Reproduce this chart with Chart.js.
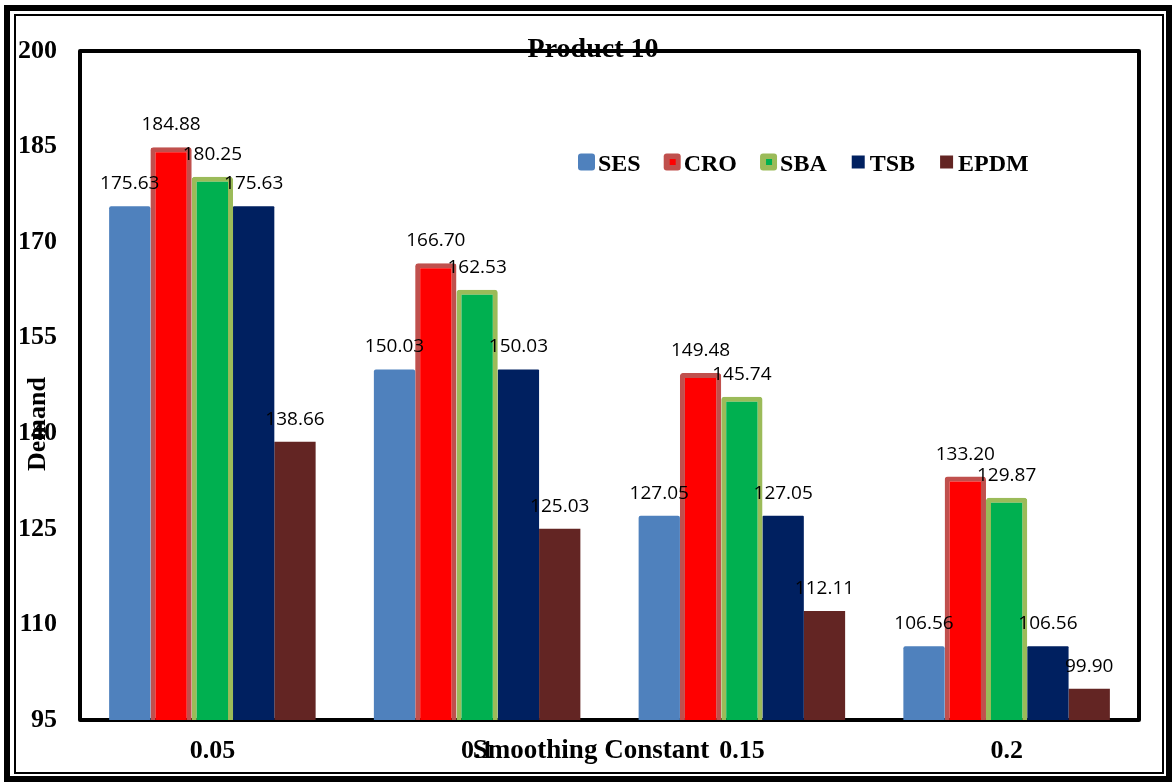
<!DOCTYPE html>
<html>
<head>
<meta charset="utf-8">
<title>Product 10</title>
<script src="https://cdn.jsdelivr.net/npm/chart.js@4.4.1/dist/chart.umd.min.js"></script>
<style>
    body{margin:0;background:#fff;}
    #wrap{width:1176px;height:782px;}
</style>
</head>
<body>
<div id="wrap"><canvas id="barChart" width="1176" height="782"></canvas></div>
<script>
// values
const categories = ['0.05', '0.1', '0.15', '0.2'];
const seriesNames = ['SES', 'CRO', 'SBA', 'TSB', 'EPDM'];
const sesValues  = [175.63, 150.03, 127.05, 106.56];
const croValues  = [184.88, 166.70, 149.48, 133.20];
const sbaValues  = [180.25, 162.53, 145.74, 129.87];
const tsbValues  = [175.63, 150.03, 127.05, 106.56];
const epdmValues = [138.66, 125.03, 112.11, 99.90];
const yTicks = [95, 110, 125, 140, 155, 170, 185, 200];

const serif = '"Liberation Serif", "Times New Roman", serif';

// excel-like legend markers: [outer colour, inner colour or null, size]
const markers = [
    ['#4F81BD', null, 17],
    ['#C0504D', '#FF0000', 17],
    ['#9BBB59', '#00B050', 17],
    ['#002060', null, 13],
    ['#632523', null, 13]
];

const decor = {
    id: 'decor',

    beforeDatasetsDraw(chart){
        const {ctx, chartArea:a} = chart;
        ctx.save();
        ctx.strokeStyle = '#000';
        ctx.lineWidth = 4;
        ctx.lineJoin = 'round';
        ctx.strokeRect(a.left, a.top, a.right - a.left, a.bottom - a.top);
        ctx.restore();
    },

    afterDatasetsDraw(chart){
        const ctx = chart.ctx;
        ctx.save();
        ctx.font = '19px "Open Sans", sans-serif';
        ctx.fillStyle = '#000';
        ctx.textAlign = 'center';
        ctx.textBaseline = 'alphabetic';
        chart.data.datasets.forEach((ds, i) => {
            chart.getDatasetMeta(i).data.forEach((bar, j) => {
                ctx.fillText(ds.data[j].toFixed(2), bar.x, bar.y - 17);
            });
        });
        ctx.restore();
    },

    afterDraw(chart){
        const ctx = chart.ctx;
        ctx.save();

        // outer double frame
        ctx.strokeStyle = '#000';
        ctx.lineWidth = 6;
        ctx.strokeRect(7, 8, 1162, 771);
        ctx.lineWidth = 2;
        ctx.strokeRect(15, 15, 1148, 758);

        ctx.fillStyle = '#000';
        ctx.textAlign = 'center';
        ctx.textBaseline = 'alphabetic';

        ctx.font = 'bold 28px ' + serif;
        ctx.fillText('Product 10', 593, 57);

        ctx.font = 'bold 27px ' + serif;
        ctx.fillText('Smoothing Constant', 591, 758);

        ctx.save();
        ctx.translate(45, 424);
        ctx.rotate(-Math.PI / 2);
        ctx.font = 'bold 26px ' + serif;
        ctx.fillText('Demand', 0, 0);
        ctx.restore();

        // legend
        ctx.font = 'bold 24px ' + serif;
        ctx.textAlign = 'left';
        let x = 578;
        const cy = 162;
        chart.data.datasets.forEach((ds, i) => {
            const [outer, inner, size] = markers[i];
            const mx = x + (17 - size) / 2;
            ctx.fillStyle = outer;
            ctx.beginPath();
            ctx.roundRect(mx, cy - size / 2, size, size, size > 14 ? 3 : 0);
            ctx.fill();
            if(inner){
                ctx.fillStyle = inner;
                ctx.fillRect(x + 6, cy - 3, 6, 6);
            }
            ctx.fillStyle = '#000';
            ctx.fillText(ds.label, x + 20, cy + 9);
            x += 20 + ctx.measureText(ds.label).width + 23;
        });

        ctx.restore();
    }
};

const bar = document.getElementById('barChart');

new Chart(bar, {
    type: 'bar',

    data: {
        labels: categories,

        datasets: [
            {label: seriesNames[0], data: sesValues,  backgroundColor: '#4F81BD', borderWidth: 0, borderRadius: 2},
            {label: seriesNames[1], data: croValues,  backgroundColor: '#FF0000', borderColor: '#C0504D', borderWidth: 5, borderRadius: 3, borderSkipped: false},
            {label: seriesNames[2], data: sbaValues,  backgroundColor: '#00B050', borderColor: '#9BBB59', borderWidth: 5, borderRadius: 3, borderSkipped: false},
            {label: seriesNames[3], data: tsbValues,  backgroundColor: '#002060', borderWidth: 0, borderRadius: 1},
            {label: seriesNames[4], data: epdmValues, backgroundColor: '#632523', borderWidth: 0}
        ]
    },

    options: {
        responsive: false,
        animation: false,
        devicePixelRatio: 1,

        layout: {
            padding: {top: 51, right: 37, left: 0, bottom: 0}
        },

        datasets: {
            bar: {
                categoryPercentage: 0.78,
                barPercentage: 1
            }
        },

        plugins: {
            legend: {display: false},
            title: {display: false},
            tooltip: {enabled: false}
        },

        scales: {
            x: {
                grid: {display: false, drawTicks: false},
                border: {display: false},
                ticks: {
                    color: '#000',
                    padding: 16,
                    font: {family: serif, size: 26, weight: 'bold'}
                },
                afterFit(scale){ scale.height = 62; }
            },

            y: {
                min: 95,
                max: 200,
                grid: {display: false, drawTicks: false},
                border: {display: false},
                ticks: {
                    color: '#000',
                    padding: 23,
                    font: {family: serif, size: 26, weight: 'bold'}
                },
                afterBuildTicks(scale){
                    scale.ticks = yTicks.map(v => ({value: v}));
                },
                afterFit(scale){ scale.width = 80; }
            }
        }
    },

    plugins: [decor]
});
</script>
</body>
</html>
